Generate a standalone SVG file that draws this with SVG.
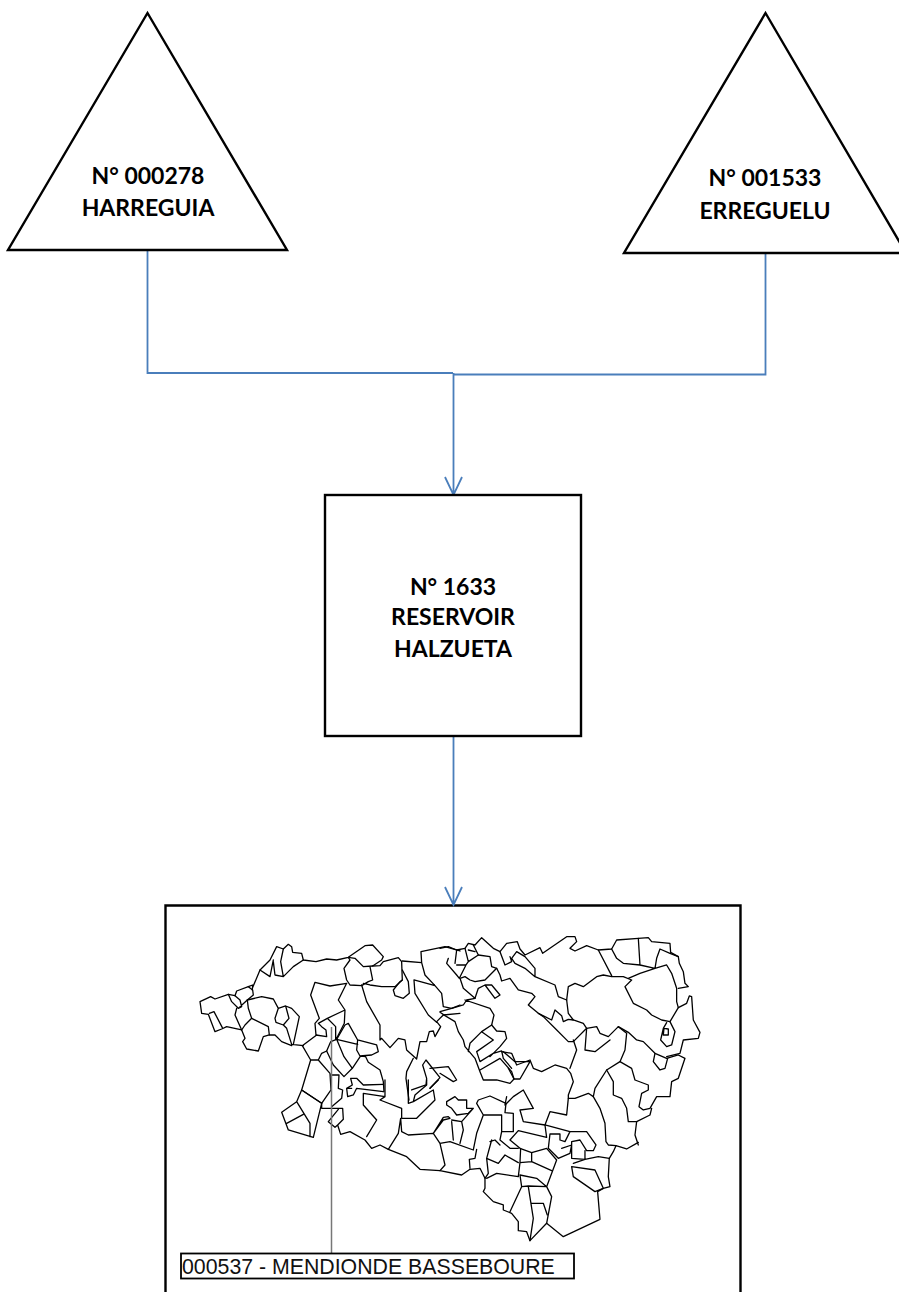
<svg xmlns="http://www.w3.org/2000/svg" width="899" height="1292" viewBox="0 0 899 1292">
<style>
.n{fill:#fff;stroke:#000;stroke-width:2.4}
.t{font-family:Lato,"Liberation Sans",sans-serif;font-weight:700;font-size:23px;text-anchor:middle;fill:#000}
.c{fill:none;stroke:#4a7ebb;stroke-width:1.8}
.m{fill:none;stroke:#000;stroke-width:3.9;stroke-linejoin:round;stroke-linecap:round}
</style>
<rect width="899" height="1292" fill="#fff"/>
<g id="map-frame"><path d="M165.500 1292V905.500H740.500V1292" fill="none" stroke="#000" stroke-width="2.4"/></g>
<g id="connectors">
<path class="c" d="M147.500 250V373H453"/>
<path class="c" d="M765.500 253V374.500H453"/>
<path class="c" d="M453.500 373V495M445 477L453.500 495L462 477"/>
<path class="c" d="M453.500 736V905M445 887L453.500 905L462 887"/>
</g>
<g id="node-harreguia"><path class="n" d="M147.500 13L8 250H287Z"/><text class="t" x="148" y="184">N° 000278</text><text class="t" x="148" y="216">HARREGUIA</text></g>
<g id="node-erreguelu"><path class="n" d="M765.500 13L624 253H906Z"/><text class="t" x="765" y="186">N° 001533</text><text class="t" x="765" y="219">ERREGUELU</text></g>
<g id="node-reservoir"><rect class="n" x="325" y="495" width="256" height="241"/><text class="t" x="453" y="595">N° 1633</text><text class="t" x="453" y="625">RESERVOIR</text><text class="t" x="453" y="657">HALZUETA</text></g>
<g id="map">
<g class="m" transform="translate(190 925) scale(.3333)">
<path d="M30 230L35 265L55 268L75 320L95 312L110 305L155 315L165 300L185 280L175 250L172 225L190 210L188 195L175 185L140 198L135 212L115 208L75 222L62 215Z"/>
<path d="M58 265L72 260L97 308M115 208L125 230L145 250L155 245L150 225L135 212M140 250L135 270L155 315M172 225L150 245"/>
<path d="M155 315L165 340L158 350L170 372L205 378L220 335L238 330L235 305L185 280"/>
<path d="M172 225L215 215L250 222L265 250L255 280L258 292L280 300L290 310L305 358L340 362M238 330L255 330L275 350L305 362M265 250L287 243L297 280L280 300M287 243L305 250L328 275L310 358"/>
<path d="M175 185L188 180L187 195M187 190L210 135L240 105L260 65L280 72L295 58L305 65L308 82L335 85L340 105L378 110L410 102L440 105L475 97L525 62L548 60L580 95L575 105L548 123L520 125L495 100L475 97"/>
<path d="M210 135L240 155L250 105M280 72L272 110L280 155L255 150L250 110M340 105L310 125L280 155"/>
<path d="M475 97L480 105L462 130L470 165L480 180L515 182L535 170L548 165L540 125M548 123L570 122L580 110L625 98L635 110L637 165L615 185L575 185L540 180L520 175"/>
<path d="M637 108L695 113L705 150L735 182M637 135L655 170L658 205L640 220L615 212L610 195L630 170L637 165M672 165L675 205L715 270L740 292M672 165L735 182L755 205L760 245L785 250L810 240M695 113L693 80L765 65L810 78"/>
<path d="M470 175L445 225L465 255L463 295L440 340M470 175L420 183L375 172L362 210L388 280L375 295L378 330L410 335L408 315L395 305L385 295L412 280L465 255M412 280L437 305L437 343"/>
<path d="M380 330L337 362L362 405L335 495L395 535L423 495L420 445L385 405L395 385L410 378L422 350L440 343M362 405L385 405"/>
<path d="M440 343L465 300L475 295L503 345L560 360L565 380L545 390L510 393L500 375L503 345M440 343L503 358M440 343L462 395L487 430L462 455L430 420L410 378M512 393L487 430M512 393L527 395L535 412L570 435L580 470L582 500"/>
<path d="M423 450H447L445 490L458 495L455 520L425 545"/>
<path d="M515 180L530 230L570 300L570 345L575 340L600 368L625 340L645 345L650 375L680 402L690 350L710 350L718 320L730 318L735 335L752 305L740 290L760 270L810 265"/>
<path d="M670 400L650 440L648 460L657 525M665 495L708 480L710 460L698 420L708 405L750 458L720 490"/>
<path d="M720 430L775 425L800 465L790 470L750 445M470 490H485M482 460H500L520 480L580 478M482 460L487 480L470 490L473 515L490 510L500 490L580 500"/>
</g>
<g class="m" transform="translate(440 925) scale(.3333)">
<path d="M0 70L25 65L50 75L75 70L85 55L105 60L125 38L160 70L180 80L200 55L232 50L240 72L255 90L300 68L308 85L380 35L405 35L410 50L390 70L405 78L440 62L475 75L515 72L530 45L595 40L625 38L635 50L690 55L692 82L715 95L718 115L730 140L735 175L745 185L715 190"/>
<path d="M50 75L45 115M75 70L85 110L115 90L100 60M85 75L105 80M25 100L20 115L50 150L58 160L78 120L85 110M50 120H78"/>
<path d="M115 90L150 95L155 125L170 130L180 150L185 168L210 160L235 195L275 205L285 215L265 240L295 265L335 285L345 255L365 272L370 290L385 283L400 285"/>
<path d="M170 130L135 165L105 170L90 165L75 155L60 160L70 190L105 220L115 190L135 180L165 220L180 210L155 180L135 180"/>
<path d="M105 220L80 225L70 240L35 250L0 260M0 262L15 272L45 290L55 320L70 345L75 365L105 400L120 440L130 465L170 465L210 475L222 462L205 430M75 225L150 250L162 270L155 300L125 320L90 355L85 380"/>
<path d="M155 300L170 318L195 320L200 340L180 365L150 395M125 320L160 345L110 380L120 410L160 385L185 378L190 400L215 430M120 435L180 400L215 440L222 462L240 462L270 410L225 410L190 380"/>
<path d="M185 380L215 385L230 420L270 405L280 430L305 440L345 420L380 430L392 445L400 470L385 510L385 520L405 520L445 505L460 515L465 490L500 435L540 410L555 375L560 325L535 305L505 335L480 325L470 305L440 310L435 375L465 380L510 345M400 345L410 375L390 430"/>
<path d="M500 435L520 470L520 510L545 520L560 550L565 590H590L585 630L595 660M540 410L575 430L585 465L625 480L625 495L605 505L597 545L610 555L630 550L650 515L690 515L695 470L715 460L735 400L715 390L680 400L645 385L610 350L590 345L565 322L535 305"/>
<path d="M645 385L640 410L660 435L675 430L683 400M680 395L720 385L730 345L775 340L780 322L760 285L755 215L748 213L740 235L715 248L690 290L665 285L635 270L620 255L580 235L555 185L575 165L550 155L515 155L490 150L470 155L430 185L405 175L385 185L380 225L385 265L400 285L430 295L440 310L400 350L385 350L345 310L310 275L295 265"/>
<path d="M380 225L355 215L345 180L285 155L285 130L255 95L230 80L215 100L225 115L255 130L285 155M180 80L195 120L215 110L210 95M475 75L515 152M515 72L530 100L550 115L600 120L595 40M600 120L645 130L650 100L660 72L690 85L715 95M565 160L600 145L645 130L680 120L695 145L710 190V230L715 248"/>
<path d="M690 290L705 320L695 360L680 365L662 345L670 310L680 293M672 310L685 312V330L670 330ZM590 590L630 570L635 550"/>
</g>
<g class="m" transform="translate(270 1080) scale(.3333)">
<path d="M35 97L80 65L95 30L155 70L130 172L55 150ZM80 65L120 130V170M50 130L100 103"/>
<path d="M155 70V85H218L220 118L203 135L212 163L240 155L285 180L305 205L330 195L355 208L410 230L450 268L510 272L575 285L600 268L630 265L645 295L645 325L640 335L670 365L700 375V390L725 400L745 425V452L770 455L780 482L830 430L880 470L990 418L983 335L1000 325L1020 320L1015 290L1018 235L1030 215L1038 197L1070 207L1105 187M205 88L175 125L195 142L203 135"/>
<path d="M830 430L845 350L830 320L775 318L755 320L720 395M755 320L750 285L800 295L830 320L860 240L830 205L785 218L750 205L720 180L745 152L830 172L825 135L760 125L750 90L790 85L760 30L730 50L705 75L710 50"/>
<path d="M355 208L385 160L392 115L395 155L415 165L490 160L510 190L525 255L510 272M510 190L540 185L610 210L620 160L640 105H695V155H730V100L705 98L708 70L660 48L625 60L620 70L640 105"/>
<path d="M490 160L520 120L540 115L535 110L520 112L490 160M600 265L598 238L615 235L620 208M545 125L550 180M575 125L580 150L570 190M610 85L575 125L545 120M530 65L555 50L565 60H590V85H610L595 100L560 105L545 85L530 75Z"/>
<path d="M695 155L690 180L720 205H745M825 135L840 95L890 105L895 55M970 50L990 85L1005 130L1008 185L1015 195L1038 197M825 135L900 155L885 185L870 180V162H840L835 205L865 235L900 220L905 195L875 205M900 155H950L978 195L970 212L950 212L930 180L905 185V235L945 238V212M910 250L945 238L985 230L1018 235"/>
<path d="M905 260L910 290L975 335L1000 325L975 270ZM785 218V245L750 248L752 205M750 248L745 290L680 280L650 295M785 245L845 272M660 185L675 180L690 195M665 180L650 235L655 280L645 295M650 235L685 250L705 225L745 248M775 320L790 415L780 482M785 370H820L832 405"/>
<path d="M330 60L395 85V115H440L495 60L490 30L430 65L415 70V0M430 65L435 45L470 15V0M505 0L480 25M330 60L345 50L280 40V75L320 120L290 170M345 50V0"/>
</g>
</g>
<g id="label">
<path d="M331.500 1027V1253" stroke="#777" stroke-width="1.5" fill="none"/>
<rect x="181" y="1253.500" width="393" height="25" fill="#fff" stroke="#000" stroke-width="1.800"/>
<text x="182" y="1274" font-family="Liberation Sans,Arial,sans-serif" font-size="21.300" fill="#111">000537 - MENDIONDE BASSEBOURE</text>
</g>
</svg>
